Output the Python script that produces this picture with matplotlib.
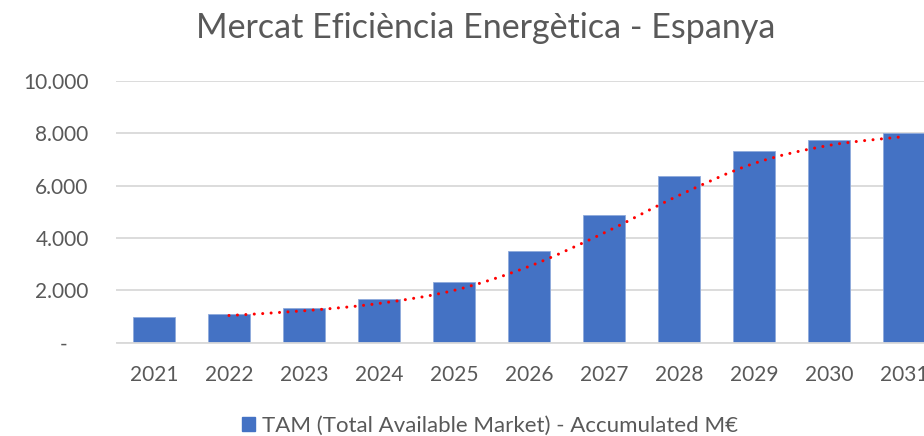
import matplotlib
matplotlib.use("Agg")
import matplotlib.pyplot as plt
import numpy as np
import pandas as pd
from matplotlib.path import Path
from matplotlib.patches import PathPatch, Patch
from matplotlib.ticker import FuncFormatter

plt.rcParams['font.family'] = ['Lato', 'DejaVu Sans']

# data (M€, accumulated)
years = ["2021", "2022", "2023", "2024", "2025", "2026", "2027", "2028", "2029", "2030", "2031"]
tam = [970, 1110, 1330, 1670, 2330, 3500, 4890, 6370, 7330, 7750, 8000]
y_ticks = [0, 2000, 4000, 6000, 8000, 10000]

title = "Mercat Eficiència Energètica - Espanya"
legend_label = "TAM (Total Available Market) - Accumulated M€"

bar_color = "#4472C4"
grey_text = "#595959"
grid_color = "#D9D9D9"

fig = plt.figure(figsize=(9.24, 4.36), dpi=100)
# the plot area runs past the right edge of the picture, like the original
ax = fig.add_axes([116.5 / 924, 93.3 / 436, 825 / 924, 261.7 / 436])

x = np.arange(len(years))
ax.bar(x, tam, width=0.57, color=bar_color, edgecolor="#8FAADC", linewidth=0.6, zorder=2)

# moving average trendline (period 2), drawn smoothed
ma = pd.Series(tam).rolling(2).mean()
px = x[1:].astype(float)
py = ma.values[1:]
verts = [(px[0], py[0])]
codes = [Path.MOVETO]
n = len(px)
for i in range(n - 1):
    x0, y0 = px[max(i - 1, 0)], py[max(i - 1, 0)]
    x1, y1 = px[i], py[i]
    x2, y2 = px[i + 1], py[i + 1]
    x3, y3 = px[min(i + 2, n - 1)], py[min(i + 2, n - 1)]
    verts += [(x1 + (x2 - x0) / 6, y1 + (y2 - y0) / 6),
              (x2 - (x3 - x1) / 6, y2 - (y3 - y1) / 6),
              (x2, y2)]
    codes += [Path.CURVE4, Path.CURVE4, Path.CURVE4]
trend = PathPatch(Path(verts, codes), fill=False, edgecolor="#FF0000", linewidth=2.2,
                  linestyle=(0, (0.01, 2.75)), capstyle="round", zorder=3)
ax.add_patch(trend)

ax.set_xlim(-0.5, len(years) - 0.5)
ax.set_ylim(0, 10000)
ax.set_yticks(y_ticks)
ax.yaxis.set_major_formatter(FuncFormatter(
    lambda v, p: "-    " if v == 0 else f"{int(v):,}".replace(",", ".")))
ax.set_xticks(x)
ax.set_xticklabels(years)
ax.tick_params(axis="both", length=0, labelsize=15, colors=grey_text)
ax.tick_params(axis="y", pad=20)
ax.tick_params(axis="x", pad=16)

ax.grid(axis="y", color=grid_color, linewidth=1.3, zorder=0)
ax.set_axisbelow(True)
for side in ["top", "right", "left"]:
    ax.spines[side].set_visible(False)
ax.spines["bottom"].set_color(grid_color)
ax.spines["bottom"].set_linewidth(1.3)

fig.text(486 / 924, 1 - 28 / 436, title, ha="center", va="center",
         fontsize=24.5, color=grey_text)

handle = Patch(color=bar_color)
fig.legend([handle], [legend_label], loc="center", bbox_to_anchor=(490 / 924, 1 - 426 / 436),
           frameon=False, fontsize=16, labelcolor=grey_text,
           handlelength=0.6, handleheight=0.6, handletextpad=0.3)

fig.savefig("out.png", dpi=100)
